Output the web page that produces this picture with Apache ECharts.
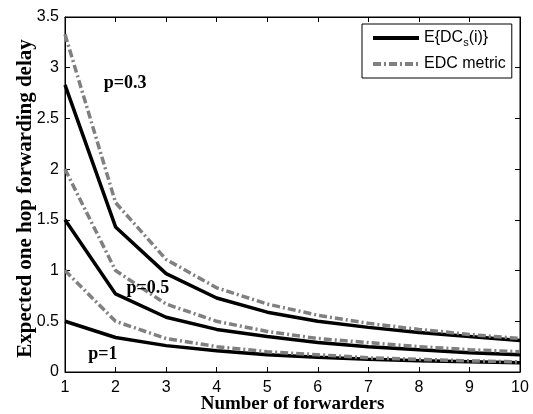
<!DOCTYPE html>
<html>
<head>
<meta charset="utf-8">
<script src="https://cdn.jsdelivr.net/npm/echarts@6/dist/echarts.min.js"></script>
<style>
html, body { margin: 0; padding: 0; background: #fff; }
#main { width: 533px; height: 414px; }
</style>
</head>
<body>
<div id="main"></div>
<script>
// number of forwarders
var forwarders = [1, 2, 3, 4, 5, 6, 7, 8, 9, 10];

// E{DC_s(i)} (solid black)
var expP03 = [2.83, 1.43, 0.97, 0.73, 0.59, 0.50, 0.44, 0.39, 0.35, 0.31];
var expP05 = [1.50, 0.77, 0.54, 0.42, 0.35, 0.29, 0.25, 0.22, 0.19, 0.17];
var expP1  = [0.50, 0.34, 0.26, 0.21, 0.17, 0.145, 0.125, 0.11, 0.10, 0.09];

// EDC metric (grey dash-dot)
var edcP03 = [3.33, 1.67, 1.11, 0.83, 0.67, 0.56, 0.48, 0.42, 0.37, 0.33];
var edcP05 = [2.00, 1.00, 0.67, 0.50, 0.40, 0.33, 0.29, 0.25, 0.22, 0.20];
var edcP1  = [1.00, 0.50, 0.33, 0.25, 0.20, 0.17, 0.14, 0.125, 0.11, 0.10];

var nameExp = 'E{DC_s(i)}';
var nameEdc = 'EDC metric';

function pairs(ys) {
    return forwarders.map(function (x, i) { return [x, ys[i]]; });
}

var serif = '"Liberation Serif", "Times New Roman", serif';
var sans = '"Liberation Sans", Arial, sans-serif';

// text annotation placed at a data coordinate
function label(text, x, y) {
    return {
        silent: true,
        data: [{
            coord: [x, y],
            symbol: 'circle',
            symbolSize: 2,
            itemStyle: {color: 'rgba(0,0,0,0)'},
            label: {
                show: true, position: 'inside', formatter: text,
                fontFamily: serif, fontWeight: 'bold', fontSize: 18, color: '#000'
            }
        }]
    };
}

function solid(ys, mark) {
    var s = {
        name: nameExp,
        type: 'line',
        data: pairs(ys),
        showSymbol: false,
        symbol: 'circle',
        lineStyle: {color: '#000', width: 3.5},
        itemStyle: {color: '#000'},
        z: 2
    };
    if (mark) s.markPoint = mark;
    return s;
}

function dashdot(ys) {
    return {
        name: nameEdc,
        type: 'line',
        data: pairs(ys),
        showSymbol: false,
        symbol: 'circle',
        lineStyle: {color: '#808080', width: 3.5, type: [8, 3, 2, 3]},
        itemStyle: {color: '#808080'},
        z: 3
    };
}

var tickFont = {fontFamily: sans, fontSize: 16, color: '#000'};

var mychart = echarts.init(document.getElementById('main'));

var option = {
    animation: false,
    backgroundColor: '#fff',
    grid: {
        left: 65, right: 13, top: 17, bottom: 42,
        outerBoundsMode: 'none',
        containLabel: false,
        show: true, borderColor: '#000', borderWidth: 1
    },
    legend: {
        data: [nameExp, nameEdc],
        orient: 'vertical',
        left: 362,
        top: 24,
        padding: [6, 6, 6, 9],
        itemGap: 8,
        itemWidth: 46,
        itemHeight: 20,
        borderColor: '#000',
        borderWidth: 1,
        backgroundColor: '#fff',
        selectedMode: false,
        itemStyle: {opacity: 0},
        lineStyle: {width: 4},
        textStyle: {
            fontFamily: sans,
            fontSize: 16,
            color: '#000',
            rich: {
                sub: {
                    fontFamily: sans,
                    fontSize: 11,
                    color: '#000',
                    padding: [9, 0, 0, 0]
                }
            }
        },
        formatter: function (name) {
            if (name === nameExp) return 'E{DC{sub|s}(i)}';
            return name;
        }
    },
    xAxis: [
        {
            type: 'value',
            min: 1, max: 10, interval: 1,
            name: 'Number of forwarders',
            nameLocation: 'middle',
            nameGap: 23,
            nameMoveOverlap: false,
            nameTextStyle: {fontFamily: serif, fontWeight: 'bold', fontSize: 19, color: '#000'},
            axisLine: {show: true, onZero: false, lineStyle: {color: '#000', width: 1}},
            axisTick: {show: true, inside: true, length: 5, lineStyle: {color: '#000'}},
            axisLabel: Object.assign({margin: 8}, tickFont),
            splitLine: {show: false}
        },
        {
            type: 'value',
            position: 'top',
            min: 1, max: 10, interval: 1,
            axisLine: {show: true, onZero: false, lineStyle: {color: '#000', width: 1}},
            axisTick: {show: true, inside: true, length: 5, lineStyle: {color: '#000'}},
            axisLabel: {show: false},
            splitLine: {show: false}
        }
    ],
    yAxis: [
        {
            type: 'value',
            min: 0, max: 3.5, interval: 0.5,
            name: 'Expected one hop forwarding delay',
            nameLocation: 'middle',
            nameGap: 29,
            nameMoveOverlap: false,
            nameTextStyle: {
                fontFamily: serif, fontWeight: 'bold', fontSize: 21, color: '#000',
                padding: [0, 8, 0, 0]
            },
            axisLine: {show: true, onZero: false, lineStyle: {color: '#000', width: 1}},
            axisTick: {show: true, inside: true, length: 5, lineStyle: {color: '#000'}},
            axisLabel: Object.assign({margin: 6}, tickFont),
            splitLine: {show: false}
        },
        {
            type: 'value',
            position: 'right',
            min: 0, max: 3.5, interval: 0.5,
            axisLine: {show: true, onZero: false, lineStyle: {color: '#000', width: 1}},
            axisTick: {show: true, inside: true, length: 5, lineStyle: {color: '#000'}},
            axisLabel: {show: false},
            splitLine: {show: false}
        }
    ],
    series: [
        solid(expP03, label('p=0.3', 2.19, 2.85)),
        solid(expP05, label('p=0.5', 2.64, 0.82)),
        solid(expP1, label('p=1', 1.75, 0.17)),
        dashdot(edcP03),
        dashdot(edcP05),
        dashdot(edcP1)
    ]
};

mychart.setOption(option);
</script>
</body>
</html>
